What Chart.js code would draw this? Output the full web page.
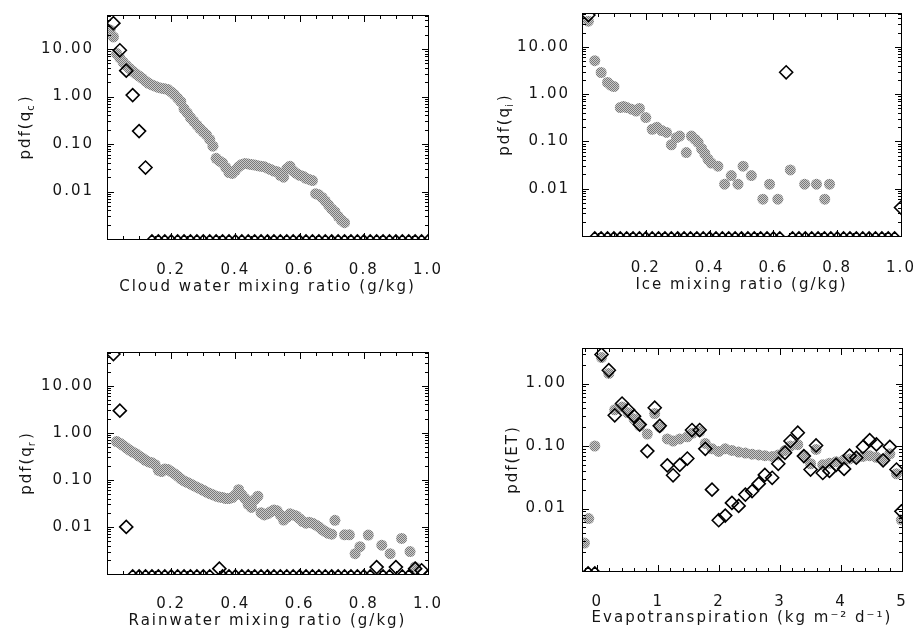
<!DOCTYPE html>
<html><head><meta charset="utf-8">
<script src="https://cdn.jsdelivr.net/npm/chart.js@4.4.1/dist/chart.umd.min.js"></script>
<style>
html,body{margin:0;padding:0;background:#fff;width:917px;height:632px;overflow:hidden;position:relative}
canvas{position:absolute;display:block}
.fr{position:absolute;box-sizing:border-box;border:1px solid #000;pointer-events:none;z-index:3}
.tk{position:absolute;background:#000;pointer-events:none;z-index:3}
</style></head><body>
<canvas id="c1" width="458" height="310" style="left:0;top:0;width:458px;height:310px"></canvas>
<canvas id="c2" width="459" height="310" style="left:458px;top:0;width:459px;height:310px"></canvas>
<canvas id="c3" width="458" height="322" style="left:0;top:310px;width:458px;height:322px"></canvas>
<canvas id="c4" width="459" height="322" style="left:458px;top:310px;width:459px;height:322px"></canvas>
<script>
// ---------- data ----------
const FLOOR = 0.001;               // zero-frequency bins are drawn on the bottom axis
const pdfTicks = [0.01, 0.1, 1, 10];
const etPdfTicks = [0.01, 0.1, 1];
const mixTicks = [0.2, 0.4, 0.6, 0.8, 1.0];
const etTicks = [0, 1, 2, 3, 4, 5];

const binX = [0.02,0.04,0.06,0.08,0.10,0.12,0.14,0.16,0.18,0.20,0.22,0.24,0.26,0.28,0.30,0.32,0.34,0.36,0.38,0.40,0.42,0.44,0.46,0.48,0.50,0.52,0.54,0.56,0.58,0.60,0.62,0.64,0.66,0.68,0.70,0.72,0.74,0.76,0.78,0.80,0.82,0.84,0.86,0.88,0.90,0.92,0.94,0.96,0.98,1.00];

// Cloud water
const cloudX = [0.01,0.02,0.03,0.04,0.05,0.06,0.07,0.08,0.09,0.10,0.11,0.12,0.13,0.14,0.15,0.16,0.17,0.18,0.19,0.20,0.21,0.22,0.23,0.24,0.25,0.26,0.27,0.28,0.29,0.30,0.31,0.32,0.33,0.34,0.35,0.36,0.37,0.38,0.39,0.40,0.41,0.42,0.43,0.44,0.45,0.46,0.47,0.48,0.49,0.50,0.51,0.52,0.53,0.54,0.55,0.56,0.57,0.58,0.59,0.60,0.61,0.62,0.63,0.64,0.65,0.66,0.67,0.68,0.69,0.70,0.71,0.72,0.73,0.74];
const cloudModel = [25,18,8,6.5,5.3,4.5,3.9,3.4,3.0,2.7,2.4,2.1,1.9,1.75,1.65,1.55,1.5,1.45,1.4,1.25,1.1,0.92,0.78,0.55,0.45,0.36,0.3,0.25,0.21,0.18,0.155,0.125,0.09,0.05,0.044,0.04,0.032,0.025,0.024,0.028,0.033,0.037,0.039,0.038,0.037,0.036,0.035,0.034,0.033,0.031,0.029,0.027,0.026,0.022,0.02,0.03,0.034,0.027,0.024,0.022,0.021,0.019,0.018,0.017,0.009,0.0085,0.0075,0.0063,0.0052,0.0043,0.0037,0.003,0.0025,0.0022];
const cloudObs = [35,9.4,3.5,1.07,0.187,0.032,0,0,0,0,0,0,0,0,0,0,0,0,0,0,0,0,0,0,0,0,0,0,0,0,0,0,0,0,0,0,0,0,0,0,0,0,0,0,0,0,0,0,0,0];

// Ice
const iceX = [0.02,0.04,0.06,0.08,0.09,0.10,0.12,0.13,0.14,0.155,0.17,0.18,0.20,0.22,0.235,0.25,0.265,0.28,0.296,0.306,0.327,0.343,0.355,0.364,0.375,0.385,0.395,0.405,0.426,0.447,0.468,0.489,0.505,0.531,0.567,0.588,0.614,0.653,0.698,0.735,0.761,0.776];
const iceModel = [35,5.1,2.87,1.77,1.55,1.45,0.52,0.55,0.52,0.48,0.44,0.5,0.32,0.18,0.2,0.17,0.155,0.085,0.12,0.13,0.058,0.13,0.11,0.095,0.07,0.055,0.042,0.035,0.03,0.0125,0.019,0.0125,0.03,0.019,0.006,0.0125,0.006,0.025,0.0125,0.0125,0.006,0.0125];
const iceObs = [47,0,0,0,0,0,0,0,0,0,0,0,0,0,0,0,0,0,0,0,0,0,0,0,0,0,0,0,0,0,0,2.9,0,0,0,0,0,0,0,0,0,0,0,0,0,0,0,0,0,0.004];

// Rainwater
const rainX = [0.03,0.04,0.05,0.06,0.07,0.08,0.09,0.10,0.11,0.12,0.13,0.14,0.15,0.16,0.17,0.18,0.19,0.20,0.21,0.22,0.23,0.24,0.25,0.26,0.27,0.28,0.29,0.30,0.31,0.32,0.33,0.34,0.35,0.36,0.37,0.38,0.39,0.40,0.41,0.42,0.43,0.44,0.45,0.46,0.47,0.48,0.49,0.50,0.51,0.52,0.53,0.54,0.55,0.56,0.57,0.58,0.59,0.60,0.61,0.62,0.63,0.64,0.65,0.66,0.67,0.68,0.69,0.70,0.71,0.74,0.755,0.773,0.788,0.814,0.856,0.882,0.918,0.944,0.96];
const rainModel = [0.65,0.6,0.54,0.48,0.43,0.39,0.36,0.32,0.29,0.26,0.24,0.23,0.21,0.16,0.15,0.17,0.165,0.15,0.135,0.12,0.105,0.095,0.088,0.082,0.075,0.07,0.065,0.06,0.055,0.051,0.048,0.045,0.043,0.042,0.04,0.04,0.042,0.048,0.062,0.048,0.04,0.03,0.026,0.038,0.045,0.02,0.018,0.019,0.021,0.023,0.022,0.018,0.014,0.016,0.019,0.018,0.017,0.015,0.013,0.012,0.0125,0.012,0.011,0.01,0.0088,0.008,0.0073,0.007,0.0138,0.0068,0.0068,0.0027,0.0038,0.0067,0.0041,0.0027,0.0057,0.003,0.0014];
const rainObsX = [0.02,0.04,0.06,0.08,0.10,0.12,0.14,0.16,0.18,0.20,0.22,0.24,0.26,0.28,0.30,0.32,0.35,0.36,0.38,0.40,0.42,0.44,0.46,0.48,0.50,0.52,0.54,0.56,0.58,0.60,0.62,0.64,0.66,0.68,0.70,0.72,0.74,0.76,0.78,0.80,0.82,0.84,0.86,0.88,0.90,0.92,0.94,0.96,0.98,1.00];
const rainObs = [47,2.95,0.01,0,0,0,0,0,0,0,0,0,0,0,0,0,0.0013,0,0,0,0,0,0,0,0,0,0,0,0,0,0,0,0,0,0,0,0,0,0,0,0,0.0014,0,0,0.0014,0,0,0.0013,0.0012,0];

// Evapotranspiration
const etModelX = [-0.21,-0.14,-0.04,0.07,0.19,0.287,0.407,0.505,0.604,0.697,0.822,0.943,1.025,1.15,1.244,1.354,1.478,1.555,1.68,1.773,1.883,1.993,2.10,2.21,2.32,2.43,2.54,2.65,2.75,2.87,2.97,3.08,3.17,3.29,3.39,3.50,3.59,3.70,3.81,3.92,4.05,4.14,4.25,4.36,4.47,4.58,4.69,4.80,4.91,4.99];
const etModel = [0.0028,0.0069,0.10,2.6,1.45,0.38,0.42,0.34,0.27,0.21,0.155,0.33,0.2,0.13,0.12,0.13,0.14,0.16,0.17,0.11,0.09,0.082,0.09,0.085,0.08,0.077,0.074,0.072,0.07,0.068,0.072,0.085,0.1,0.105,0.07,0.052,0.088,0.05,0.053,0.056,0.06,0.062,0.064,0.068,0.07,0.066,0.06,0.075,0.036,0.0066];
const etObsX = [-0.15,-0.04,0.07,0.19,0.287,0.407,0.505,0.604,0.697,0.822,0.943,1.025,1.15,1.244,1.354,1.478,1.555,1.68,1.773,1.883,1.993,2.10,2.21,2.32,2.43,2.54,2.65,2.75,2.87,2.97,3.08,3.17,3.29,3.39,3.50,3.59,3.70,3.81,3.92,4.05,4.14,4.25,4.36,4.47,4.58,4.69,4.80,4.91,4.99];
const etObs = [0,0,2.91,1.63,0.31,0.478,0.38,0.30,0.22,0.083,0.41,0.21,0.049,0.034,0.05,0.063,0.18,0.18,0.09,0.020,0.0065,0.0077,0.0123,0.011,0.0167,0.019,0.025,0.0345,0.031,0.052,0.078,0.12,0.163,0.069,0.042,0.102,0.037,0.040,0.050,0.043,0.070,0.065,0.097,0.124,0.106,0.059,0.097,0.042,0.009];

// ---------- rendering ----------
const FONT = 'DejaVu Sans';
const INK = '#151515';
const pts = (xs, ys) => xs.map((x, i) => ({x, y: ys[i] > 0 ? ys[i] : FLOOR}));

const spacing = {
  id: 'spacing',
  beforeUpdate(c) { c.ctx.letterSpacing = '2px'; },
  beforeDraw(c) { c.ctx.letterSpacing = '2px'; }
};

const yTitle = {
  id: 'ytitle',
  afterDraw(chart, args, o) {
    const {ctx, chartArea: a} = chart;
    ctx.save();
    ctx.letterSpacing = '2px';
    ctx.fillStyle = INK;
    ctx.translate(o.x, (a.top + a.bottom) / 2);
    ctx.rotate(-Math.PI / 2);
    ctx.textBaseline = 'middle';
    ctx.textAlign = 'left';
    const big = '15px "' + FONT + '"', small = '10px "' + FONT + '"';
    ctx.font = big; const w1 = ctx.measureText(o.main).width;
    ctx.font = small; const w2 = o.sub ? ctx.measureText(o.sub).width : 0;
    ctx.font = big; const w3 = ctx.measureText(o.tail).width;
    let x0 = -(w1 + w2 + w3) / 2;
    ctx.fillText(o.main, x0, 0); x0 += w1;
    if (o.sub) { ctx.font = small; ctx.fillText(o.sub, x0 - 1, 5); x0 += w2; ctx.font = big; }
    ctx.fillText(o.tail, x0, 0);
    ctx.restore();
  }
};

// Plot box with inward major/minor ticks on all four sides; tick places come from the chart's scales.
function drawFrame(chart, cfg) {
  const W = chart.canvas.width, H = chart.canvas.height;
  const ca = chart.chartArea || {};
  const ok = v => typeof v === 'number' && isFinite(v);
  const L = ok(ca.left) ? ca.left : cfg.yW;
  const T = ok(ca.top) ? ca.top : cfg.top;
  const R = ok(ca.right) ? ca.right : W - cfg.right;
  const B = ok(ca.bottom) ? ca.bottom : H - cfg.xH;
  const ox = cfg.ox, oy = cfg.oy;
  const add = (cls, l, t, w, h) => {
    const d = document.createElement('div');
    d.className = cls;
    d.style.left = l + 'px'; d.style.top = t + 'px';
    d.style.width = w + 'px'; d.style.height = h + 'px';
    document.body.appendChild(d);
  };
  add('fr', ox + L, oy + T, R - L + 1, B - T + 1);
  const x = chart.scales.x, y = chart.scales.y;
  for (let e = -3; e <= 1; e++) {
    for (let k = 1; k <= 9; k++) {
      const v = k * Math.pow(10, e);
      if (v <= FLOOR * 1.0001 || v >= cfg.yMax) continue;
      const py = Math.round(y.getPixelForValue(v));
      if (!ok(py)) continue;
      const len = k === 1 ? 7 : 4;
      add('tk', ox + L, oy + py, len, 1);
      add('tk', ox + R - len + 1, oy + py, len, 1);
    }
  }
  const start = Math.ceil(cfg.xMin / cfg.xMinor - 1e-6);
  const stop = Math.floor(cfg.xMax / cfg.xMinor + 1e-6);
  for (let i = start; i <= stop; i++) {
    const v = i * cfg.xMinor;
    const isMajor = Math.abs(v / cfg.xMajor - Math.round(v / cfg.xMajor)) < 1e-6;
    const px = Math.round(x.getPixelForValue(v));
    if (!ok(px)) continue;
    const len = isMajor ? 7 : 4;
    add('tk', ox + px, oy + B - len + 1, 1, len);
    add('tk', ox + px, oy + T, 1, len);
  }
}

function halftone(canvas) {
  const c = document.createElement('canvas'); c.width = 2; c.height = 2;
  const g = c.getContext('2d');
  g.fillStyle = '#cacaca'; g.fillRect(0, 0, 2, 2);
  g.fillStyle = '#7a7a7a'; g.fillRect(0, 0, 1, 1); g.fillRect(1, 1, 1, 1);
  return canvas.getContext('2d').createPattern(c, 'repeat');
}

const noPad = s => { s.paddingLeft = 0; s.paddingRight = 0; s.paddingTop = 0; s.paddingBottom = 0; };

function makePanel(id, cfg) {
  const canvas = document.getElementById(id);
  const grey = halftone(canvas);
  const tickFont = {family: FONT, size: 15};
  const chart = new Chart(canvas, {
    type: 'scatter',
    data: {
      datasets: [
        {
          label: 'observed', data: pts(cfg.obsX, cfg.obs), order: 0, clip: 0,
          pointStyle: 'rectRot', backgroundColor: 'rgba(0,0,0,0)', borderColor: '#000',
          borderWidth: 1.6,
          pointRadius: c => (c.raw && c.raw.y <= FLOOR) ? 4 : 6.5
        },
        {
          label: 'model', data: pts(cfg.modX, cfg.mod), order: 1, clip: 0,
          pointStyle: 'circle', backgroundColor: grey, borderWidth: 0, pointRadius: 5.5
        }
      ]
    },
    options: {
      responsive: false, animation: false, events: [], devicePixelRatio: 1,
      layout: {padding: {left: 0, top: cfg.top, right: cfg.right, bottom: 0}},
      plugins: {
        legend: {display: false}, tooltip: {enabled: false},
        ytitle: {x: cfg.titleX, main: cfg.yMain, sub: cfg.ySub, tail: cfg.yTail}
      },
      scales: {
        x: {
          type: 'linear', min: cfg.xMin, max: cfg.xMax, bounds: 'data',
          grid: {display: false, drawBorder: false}, border: {display: false},
          ticks: {font: tickFont, color: INK, padding: cfg.xPad, autoSkip: false, maxRotation: 0,
                  callback: v => Number(v).toFixed(cfg.xDec)},
          afterBuildTicks: s => { s.ticks = cfg.xTicks.map(v => ({value: v})); },
          afterFit: s => { s.height = cfg.xH; noPad(s); },
          title: {display: true, text: cfg.xTitle, color: INK, font: tickFont,
                  padding: {top: 0, bottom: cfg.titlePad}}
        },
        y: {
          type: 'logarithmic', min: FLOOR, max: cfg.yMax, bounds: 'data',
          grid: {display: false, drawBorder: false}, border: {display: false},
          ticks: {font: tickFont, color: INK, padding: cfg.yPad, autoSkip: false,
                  callback: v => Number(v).toFixed(2)},
          afterBuildTicks: s => { s.ticks = cfg.yTicks.map(v => ({value: v})); },
          afterFit: s => { s.width = cfg.yW; noPad(s); }
        }
      }
    },
    plugins: [spacing, yTitle]
  });
  drawFrame(chart, cfg);
  return chart;
}

makePanel('c1', {
  ox: 0, oy: 0,
  obsX: binX, obs: cloudObs, modX: cloudX, mod: cloudModel,
  xMin: 0, xMax: 1, xTicks: mixTicks, xDec: 1, xMajor: 0.2, xMinor: 0.05,
  yTicks: pdfTicks, yMax: 52,
  top: 15, right: 30, yW: 107, xH: 71, xPad: 14, yPad: 5, titlePad: 14, titleX: 26,
  xTitle: 'Cloud water mixing ratio (g/kg)', yMain: 'pdf(q', ySub: 'c', yTail: ')'
});
makePanel('c2', {
  ox: 458, oy: 0,
  obsX: binX, obs: iceObs, modX: iceX, mod: iceModel,
  xMin: 0, xMax: 1, xTicks: mixTicks, xDec: 1, xMajor: 0.2, xMinor: 0.05,
  yTicks: pdfTicks, yMax: 52,
  top: 13, right: 16, yW: 124, xH: 74, xPad: 15, yPad: 4, titlePad: 16, titleX: 47,
  xTitle: 'Ice mixing ratio (g/kg)', yMain: 'pdf(q', ySub: 'i', yTail: ')'
});
makePanel('c3', {
  ox: 0, oy: 310,
  obsX: rainObsX, obs: rainObs, modX: rainX, mod: rainModel,
  xMin: 0, xMax: 1, xTicks: mixTicks, xDec: 1, xMajor: 0.2, xMinor: 0.05,
  yTicks: pdfTicks, yMax: 52,
  top: 42, right: 30, yW: 107, xH: 58, xPad: 13.5, yPad: 5, titlePad: 1.5, titleX: 27,
  xTitle: 'Rainwater mixing ratio (g/kg)', yMain: 'pdf(q', ySub: 'r', yTail: ')'
});
makePanel('c4', {
  ox: 458, oy: 310,
  obsX: etObsX, obs: etObs, modX: etModelX, mod: etModel,
  xMin: -0.25, xMax: 5, xTicks: etTicks, xDec: 0, xMajor: 1, xMinor: 0.2,
  yTicks: etPdfTicks, yMax: 3.7,
  top: 38, right: 15, yW: 124, xH: 61, xPad: 14, yPad: 7, titlePad: 5, titleX: 55,
  xTitle: 'Evapotranspiration (kg m\u207B\u00B2 d\u207B\u00B9)', yMain: 'pdf(ET)', ySub: '', yTail: ''
});
</script>
</body></html>
